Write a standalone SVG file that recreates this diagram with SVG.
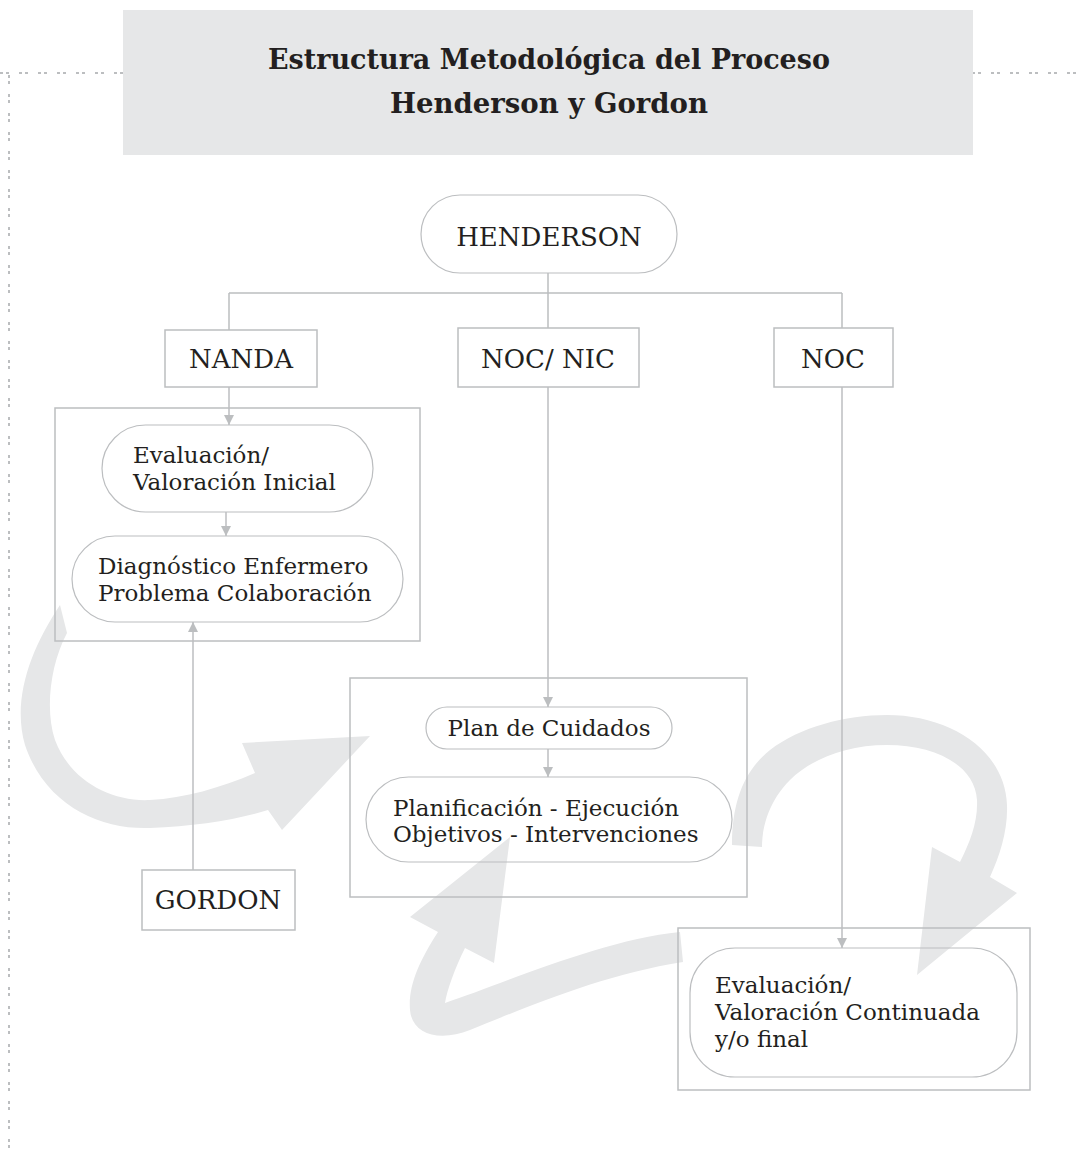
<svg xmlns="http://www.w3.org/2000/svg" width="1082" height="1159" viewBox="0 0 1082 1159">
<defs>
<style>
.box{fill:none;stroke:#bcbec0;stroke-width:1.5}
.pill{fill:none;stroke:#bcbec0;stroke-width:1.2}
.con{fill:none;stroke:#bcbec0;stroke-width:1.5}
.big{fill:#e6e7e8}
.dash{fill:none;stroke:#a7a9ac;stroke-width:1.5;stroke-dasharray:3 3 3 10}
.t{font-family:"DejaVu Serif","Liberation Serif",serif;font-size:23px;fill:#231f20}
.c{font-family:"DejaVu Serif","Liberation Serif",serif;font-size:26px;fill:#231f20;text-anchor:middle}
.title{font-family:"DejaVu Serif","Liberation Serif",serif;font-size:28px;font-weight:bold;fill:#231f20;text-anchor:middle}
</style>
<marker id="ah" markerUnits="userSpaceOnUse" markerWidth="10" markerHeight="10" refX="10" refY="5" orient="auto">
<path d="M0,0 L10,5 L0,10 Z" fill="#bcbec0"/>
</marker>
</defs>
<rect width="1082" height="1159" fill="#ffffff"/>
<g id="border">
<path class="dash" d="M0 73 H125 M972 73 H1082 M9 75 V1152"/>
</g>
<g id="title">
<rect x="123" y="10" width="850" height="145" fill="#e6e7e8"/>
<text class="title" x="549" y="69" textLength="562" lengthAdjust="spacingAndGlyphs">Estructura Metodológica del Proceso</text>
<text class="title" x="549" y="113" textLength="318" lengthAdjust="spacingAndGlyphs">Henderson y Gordon</text>
</g>
<g id="cycle-arrows">
<path class="big" d="M60 605 C30 650 12 700 25 745 C45 805 100 830 150 828 C195 826 235 820 268 810 L282 830 L370 736 L242 743 L255 773 C220 788 185 798 150 800 C110 802 70 780 55 740 C45 710 50 665 67 633 Z"/>
<path class="big" d="M732 845 C732 800 745 770 770 750 C800 727 845 715 887 715 C950 715 1005 750 1007 805 C1008 830 1000 855 990 877 L1017 893 L917 975 L932 847 L960 862 C970 842 978 822 977 800 C975 765 935 745 887 745 C845 745 810 760 790 780 C770 800 762 825 762 847 Z"/>
<path class="big" d="M683 962 C600 975 520 1010 470 1030 C440 1042 412 1035 410 1010 C408 985 420 960 438 932 L410 917 L510 837 L494 963 L465 948 C455 968 447 990 445 1003 C500 985 600 940 680 932 Z"/>
</g>
<g id="henderson">
<rect class="pill" x="421" y="195" width="256" height="78" rx="39"/>
<text class="c" x="549" y="246">HENDERSON</text>
</g>
<g id="nanda">
<rect class="box" x="165" y="330" width="152" height="57"/>
<text class="c" x="241" y="368">NANDA</text>
</g>
<g id="nocnic">
<rect class="box" x="458" y="328" width="181" height="59"/>
<text class="c" x="548" y="368">NOC/ NIC</text>
</g>
<g id="noc">
<rect class="box" x="774" y="328" width="119" height="59"/>
<text class="c" x="833" y="368">NOC</text>
</g>
<g id="grupo-diagnostico">
<rect class="box" x="55" y="408" width="365" height="233"/>
</g>
<g id="valoracion-inicial">
<rect class="pill" x="102" y="425" width="271" height="87" rx="43.5"/>
<text class="t" x="133" y="463">Evaluación/</text>
<text class="t" x="133" y="490">Valoración Inicial</text>
</g>
<g id="diagnostico">
<rect class="pill" x="72" y="536" width="331" height="86" rx="43"/>
<text class="t" x="98" y="574">Diagnóstico Enfermero</text>
<text class="t" x="98" y="601">Problema Colaboración</text>
</g>
<g id="gordon">
<rect class="box" x="142" y="870" width="153" height="60"/>
<text class="c" x="218" y="909">GORDON</text>
</g>
<g id="grupo-plan">
<rect class="box" x="350" y="678" width="397" height="219"/>
</g>
<g id="plan-cuidados">
<rect class="pill" x="426" y="707" width="246" height="42" rx="21"/>
<text class="t" x="549" y="736" text-anchor="middle">Plan de Cuidados</text>
</g>
<g id="planificacion">
<rect class="pill" x="366" y="777" width="366" height="85" rx="42.5"/>
<text class="t" x="393" y="816">Planificación - Ejecución</text>
<text class="t" x="393" y="842">Objetivos - Intervenciones</text>
</g>
<g id="grupo-evaluacion">
<rect class="box" x="678" y="928" width="352" height="162"/>
</g>
<g id="evaluacion-continuada">
<rect class="pill" x="690" y="948" width="327" height="129" rx="45"/>
<text class="t" x="715" y="993">Evaluación/</text>
<text class="t" x="715" y="1020">Valoración Continuada</text>
<text class="t" x="715" y="1047">y/o final</text>
</g>
<g id="connectors">
<path class="con" d="M548 273 V293 M229 293 H842 M229 293 V330 M548 293 V328 M842 293 V328"/>
<path class="con" d="M229 387 V425" marker-end="url(#ah)"/>
<path class="con" d="M226 512 V536" marker-end="url(#ah)"/>
<path class="con" d="M193 870 V622" marker-end="url(#ah)"/>
<path class="con" d="M548 387 V707" marker-end="url(#ah)"/>
<path class="con" d="M548 749 V777" marker-end="url(#ah)"/>
<path class="con" d="M842 387 V948" marker-end="url(#ah)"/>
</g>
</svg>
